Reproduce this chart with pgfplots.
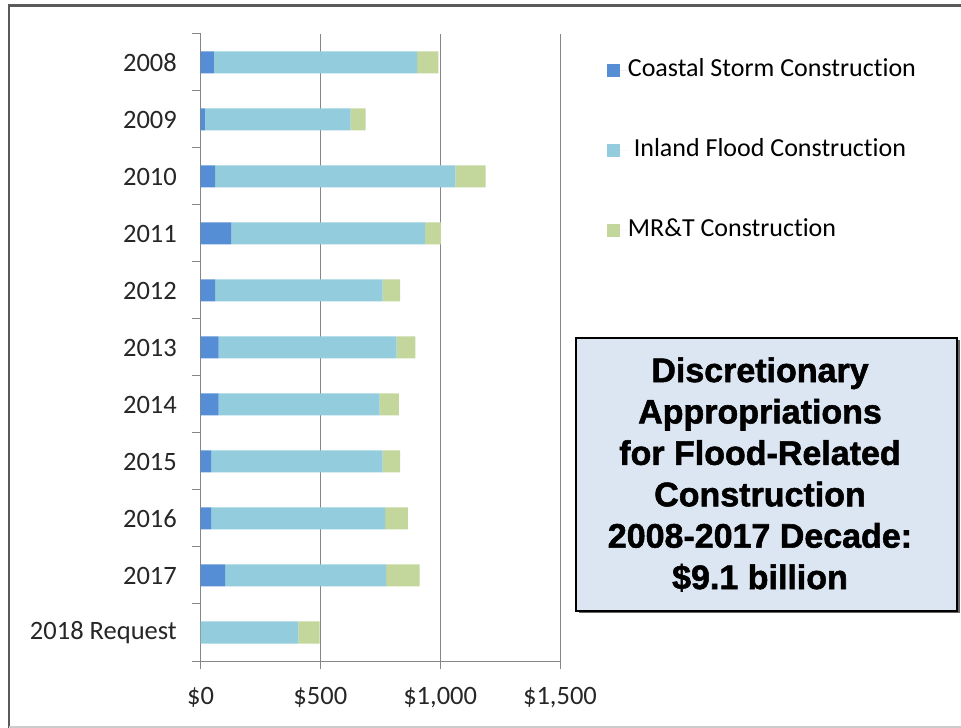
\documentclass[border=0pt]{standalone}
\usepackage{pgfplots}
\pgfplotsset{compat=1.18}
\usepackage{pgfplotstable}
\usepackage{fontspec}
\setmainfont{Carlito}[Ligatures={NoCommon}]
\newfontfamily\boxfont{Liberation Sans}[BoldFeatures={FakeBold=1.6}]
\definecolor{coastal}{RGB}{85,142,213}
\definecolor{inland}{RGB}{147,205,221}
\definecolor{mrt}{RGB}{195,214,155}
\definecolor{boxfill}{RGB}{220,230,242}
\definecolor{axgray}{RGB}{134,134,134}
\definecolor{framegray}{RGB}{90,90,90}

% pos: 10 = 2008 (top) ... 0 = 2018 Request (bottom)
\pgfplotstableread{
pos coastal inland mrt
10  56  848  89
9   18  608  63
8   61 1002 127
7  129  807  67
6   61  699  73
5   76  742  79
4   76  671  81
3   44  716  73
2   44  726  95
1  103  672 139
0    0  408  89
}\data

\begin{document}
\begin{tikzpicture}
\useasboundingbox (0pt,0pt) rectangle (961pt,728pt);
\fill[white] (0pt,0pt) rectangle (961pt,728pt);
\draw[line width=2.5pt, framegray] (9pt,-5pt) -- (9pt,722.5pt) -- (975pt,722.5pt);
\draw[line width=1.5pt, gray!40] (9pt,0.8pt) -- (961pt,0.8pt);

\begin{axis}[
  at={(200.5pt,67pt)}, anchor=south west,
  scale only axis, width=359.5pt, height=627pt,
  xbar stacked, bar width=22pt,
  xmin=0, xmax=1500, ymin=-0.5, ymax=10.5,
  axis x line*=bottom, axis y line*=left,
  axis line style={axgray, line width=1pt, -},
  xtick={0,500,1000,1500},
  xticklabels={{\$0},{\$500},{\$1,000},{\$1,500}},
  ytick={-0.5,0.5,...,10.5},
  y tick label as interval,
  yticklabels={2018 Request,2017,2016,2015,2014,2013,2012,2011,2010,2009,2008,{}},
  tick align=outside, major tick length=8.5pt,
  tick style={axgray, line width=1pt},
  xmajorgrids, grid style={axgray, line width=1pt},
  ticklabel style={font=\fontsize{26.5}{29}\selectfont, text=black!85},
  yticklabel style={inner sep=0pt, xshift=-15pt},
  xticklabel style={inner sep=0pt, yshift=-18pt},
  legend style={at={(1.13,0.961)}, anchor=north west, draw=none, fill=none,
    inner sep=0pt, row sep=56pt,
    font=\fontsize{26}{30}\selectfont,
    nodes={inner sep=0pt, text height=18pt, text depth=6pt},
    cells={anchor=west}},
  legend image code/.code={\fill[#1] (0pt,-6.5pt) rectangle (13pt,6.5pt);
    \path (0pt,0pt) -- (21pt,0pt);},
]
\addplot[fill=coastal, draw=none] table[x=coastal, y=pos] {\data};
\addlegendentry{Coastal Storm Construction}
\addplot[fill=inland, draw=none] table[x=inland, y=pos] {\data};
\addlegendentry{\ Inland Flood Construction}
\addplot[fill=mrt, draw=none] table[x=mrt, y=pos] {\data};
\addlegendentry{MR\&T Construction}
\end{axis}

\fill[black!60] (579pt,115pt) rectangle (960pt,388pt);
\node[draw=black, line width=2.5pt, fill=boxfill, minimum width=381pt,
  minimum height=273pt, inner sep=0pt] at (766.5pt,253.5pt) {};
\node[align=center, inner sep=0pt,
  font=\boxfont\bfseries\fontsize{34}{41.4}\selectfont]
  at (760pt,253.5pt)
  {Discretionary\\Appropriations\\for Flood-Related\\Construction\\2008-2017 Decade:\\\$9.1 billion};
\end{tikzpicture}
\end{document}
